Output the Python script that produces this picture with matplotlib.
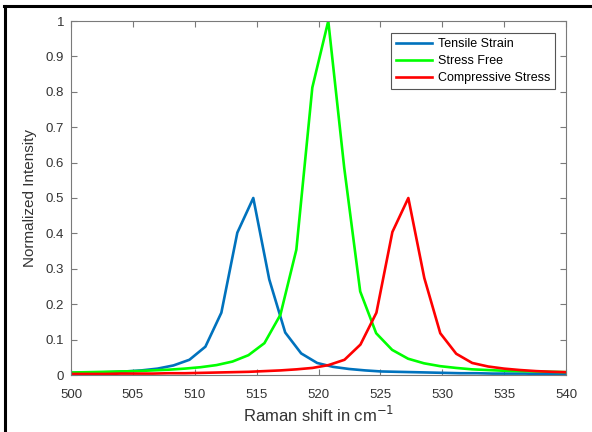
import matplotlib
matplotlib.use("Agg")
import matplotlib.pyplot as plt
from matplotlib.lines import Line2D
from matplotlib.ticker import FuncFormatter, MultipleLocator

plt.rcParams['font.family'] = ['Liberation Sans', 'DejaVu Sans']

x_tensile = [500.0, 501.83, 503.12, 504.41, 505.70, 506.99, 508.28, 509.57, 510.86, 512.15,
             513.44, 514.73, 516.02, 517.31, 518.60, 519.89, 521.18, 522.47, 523.76, 525.05,
             526.34, 527.63, 528.92, 530.21, 531.50, 532.79, 534.08, 535.37, 536.66, 537.95,
             539.24, 540.0]
y_tensile = [0.006, 0.007, 0.008, 0.010, 0.013, 0.018, 0.027, 0.043, 0.080, 0.176,
             0.402, 0.500, 0.270, 0.120, 0.061, 0.034, 0.023, 0.017, 0.013, 0.010,
             0.009, 0.008, 0.007, 0.006, 0.005, 0.005, 0.004, 0.004, 0.004, 0.003,
             0.003, 0.003]

x_free = [500.0, 501.44, 502.73, 504.02, 505.31, 506.60, 507.89, 509.18, 510.47, 511.76,
          513.05, 514.34, 515.63, 516.92, 518.21, 519.50, 520.79, 522.08, 523.37, 524.66,
          525.95, 527.24, 528.53, 529.82, 531.11, 532.40, 533.69, 534.98, 536.27, 537.56,
          538.85, 540.0]
y_free = [0.007, 0.008, 0.009, 0.010, 0.011, 0.013, 0.015, 0.018, 0.022, 0.028,
          0.038, 0.056, 0.090, 0.170, 0.354, 0.812, 1.000, 0.585, 0.236, 0.118,
          0.071, 0.046, 0.033, 0.025, 0.020, 0.016, 0.014, 0.012, 0.011, 0.010,
          0.009, 0.008]

x_comp = [500.0, 501.46, 502.75, 504.04, 505.33, 506.62, 507.91, 509.20, 510.49, 511.78,
          513.07, 514.36, 515.65, 516.94, 518.23, 519.52, 520.81, 522.10, 523.39, 524.68,
          525.97, 527.26, 528.55, 529.84, 531.13, 532.42, 533.71, 535.00, 536.29, 537.58,
          538.87, 540.0]
y_comp = [0.003, 0.003, 0.003, 0.004, 0.004, 0.004, 0.005, 0.005, 0.006, 0.007,
          0.008, 0.009, 0.011, 0.013, 0.016, 0.020, 0.028, 0.043, 0.086, 0.176,
          0.404, 0.500, 0.274, 0.118, 0.060, 0.034, 0.024, 0.018, 0.014, 0.011,
          0.009, 0.008]

labels = ["Tensile Strain", "Stress Free", "Compressive Stress"]
colors = ["#0072BD", "#00FF00", "#FF0000"]

W, H = 592, 432
fig = plt.figure(figsize=(W / 100, H / 100), dpi=100)
ax = fig.add_axes([71 / W, (H - 375) / H, (566 - 71) / W, (375 - 21) / H])

ax.plot(x_tensile, y_tensile, color=colors[0], lw=1.9, label=labels[0])
ax.plot(x_free, y_free, color=colors[1], lw=1.9, label=labels[1])
ax.plot(x_comp, y_comp, color=colors[2], lw=1.9, label=labels[2])

ax.set_xlim(500, 540)
ax.set_ylim(0, 1)
ax.xaxis.set_major_locator(MultipleLocator(5))
ax.yaxis.set_major_locator(MultipleLocator(0.1))
ax.yaxis.set_major_formatter(FuncFormatter(lambda v, p: f"{v:.1f}".rstrip('0').rstrip('.') if v != 0 else "0"))

axis_gray = "#7a7a7a"
for s in ax.spines.values():
    s.set_color(axis_gray)
    s.set_linewidth(0.8)
ax.tick_params(direction='in', length=4, width=0.8, color=axis_gray,
               top=True, right=True, labelsize=9.5, labelcolor="#333333")
ax.tick_params(axis='x', pad=10)
ax.tick_params(axis='y', pad=5)

ax.set_xlabel("Raman shift in cm$^{-1}$", fontsize=12, color="#333333", labelpad=3)
ax.set_ylabel("Normalized Intensity", fontsize=11, color="#333333", labelpad=6)

leg = ax.legend(loc='upper right', bbox_to_anchor=((555 - 71) / 495, (375 - 33) / 354),
                borderaxespad=0, fontsize=9, fancybox=False, framealpha=1,
                edgecolor="#555555", handlelength=2.9, handletextpad=0.45,
                borderpad=0.4, labelspacing=0.4)
leg.get_frame().set_linewidth(0.8)

# outer black frame (left and top)
fig.add_artist(Line2D([5 / W, 5 / W], [0, 1 - 6 / H], color='black', lw=2.2,
                      transform=fig.transFigure))
fig.add_artist(Line2D([4 / W, 1], [1 - 6 / H, 1 - 6 / H], color='black', lw=2.2,
                      transform=fig.transFigure))

fig.savefig("out.png", dpi=100, facecolor='white')
